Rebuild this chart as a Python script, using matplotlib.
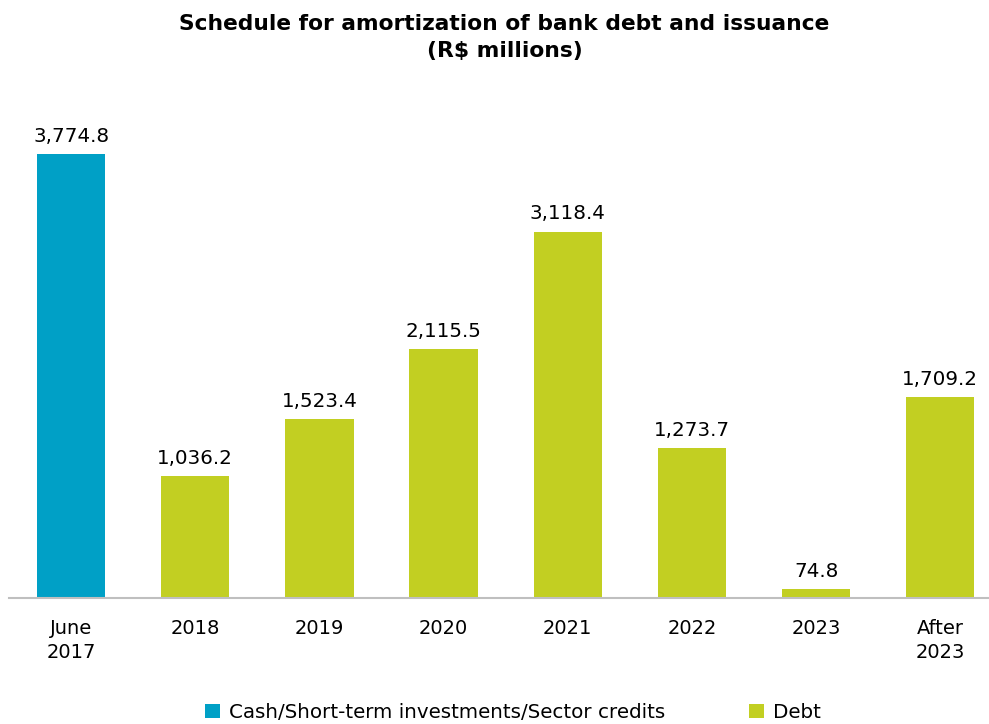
import matplotlib
matplotlib.use("Agg")
import matplotlib.pyplot as plt
from matplotlib.patches import Patch

categories = ["June\n2017", "2018", "2019", "2020", "2021", "2022", "2023", "After\n2023"]
values = [3774.8, 1036.2, 1523.4, 2115.5, 3118.4, 1273.7, 74.8, 1709.2]
series = ["Cash", "Debt", "Debt", "Debt", "Debt", "Debt", "Debt", "Debt"]
legend_labels = ["Cash/Short-term investments/Sector credits", "Debt"]

cash_color = "#00A0C6"
debt_color = "#C2CF22"

plt.rcParams['font.family'] = ['DejaVu Sans']

fig = plt.figure(figsize=(9.89, 7.24), dpi=100)
ax = fig.add_axes([9/989, 126/724, 981/989, 470/724])

colors = [cash_color if s == "Cash" else debt_color for s in series]
x = list(range(len(categories)))
bars = ax.bar(x, values, width=0.55, color=colors)

for xi, v in zip(x, values):
    ax.text(xi, v + 70, f"{v:,.1f}", ha="center", va="bottom", fontsize=14.3, color="#000000")

ax.set_xlim(-0.5, 7.4)
ax.set_ylim(0, 4000)
ax.set_xticks(x)
ax.set_xticklabels(categories, fontsize=14, linespacing=1.35)
ax.tick_params(axis="x", length=0, pad=15)
ax.set_yticks([])
for s in ["top", "right", "left"]:
    ax.spines[s].set_visible(False)
ax.spines["bottom"].set_color("#BFBFBF")
ax.spines["bottom"].set_linewidth(1.5)

fig.text(0.51, 0.981, "Schedule for amortization of bank debt and issuance\n(R$ millions)",
         ha="center", va="top", fontsize=15.7, fontweight="bold", linespacing=1.45)

handles = [Patch(facecolor=cash_color), Patch(facecolor=debt_color)]
fig.legend(handles, legend_labels, loc="lower center", bbox_to_anchor=(0.5185, -0.022), ncol=2,
           frameon=False, fontsize=14.3, handlelength=0.75, handleheight=0.75,
           handletextpad=0.45, columnspacing=4.2)

fig.savefig("out.png", dpi=100)
